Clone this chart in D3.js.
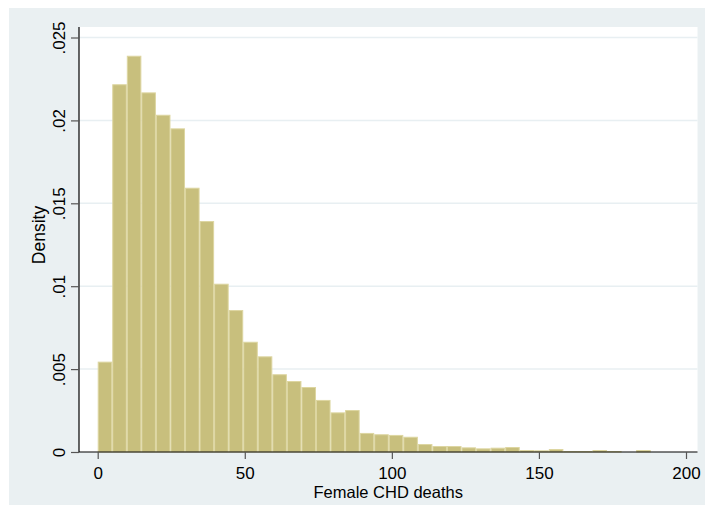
<!DOCTYPE html>
<html>
<head>
<meta charset="utf-8">
<script src="https://cdn.jsdelivr.net/npm/d3@7"></script>
<style>
  html, body { margin: 0; padding: 0; background: #ffffff; }
  svg { display: block; }
  text { font-family: "Liberation Sans", Arial, Helvetica, sans-serif; fill: #000; }
</style>
</head>
<body>
<svg id="chart" width="705" height="516"></svg>
<script>
// ---- data ----
const binStart = 0;
const binEnd = 188;
const binCount = 38;
const densities = [
  0.00545, 0.02218, 0.0239, 0.02169, 0.02034, 0.01952, 0.01594, 0.01393,
  0.01015, 0.00856, 0.00665, 0.00577, 0.00469, 0.00428, 0.00392, 0.00314,
  0.00239, 0.00253, 0.00115, 0.00107, 0.00103, 0.00092, 0.00048, 0.00036,
  0.00036, 0.00028, 0.00022, 0.00026, 0.0003, 0.00012, 0.0001, 0.00018,
  0.00006, 0.00006, 0.00012, 0.00006, 0, 0.00012
];
const xTicks = [0, 50, 100, 150, 200];
const yTicks = [0, 0.005, 0.01, 0.015, 0.02, 0.025];
const yTickLabels = ["0", ".005", ".01", ".015", ".02", ".025"];
const xTitle = "Female CHD deaths";
const yTitle = "Density";

// ---- layout ----
const svg = d3.select("#chart");
const plotLeft = 79, plotRight = 697.5, plotTop = 27, plotBottom = 452;

svg.append("rect").attr("x", 9).attr("y", 8).attr("width", 696).attr("height", 497)
  .attr("fill", "#eaf0f2");
svg.append("rect").attr("x", plotLeft).attr("y", plotTop)
  .attr("width", plotRight - plotLeft).attr("height", plotBottom - plotTop)
  .attr("fill", "#ffffff");

const x = d3.scaleLinear().domain([0, 200]).range([97.7, 686]);
const y = d3.scaleLinear().domain([0, 0.025]).range([452, 37.5]);

// gridlines
svg.append("g").selectAll("line").data(yTicks.filter(d => d > 0)).join("line")
  .attr("x1", plotLeft).attr("x2", plotRight)
  .attr("y1", d => y(d)).attr("y2", d => y(d))
  .attr("stroke", "#e8eff2").attr("stroke-width", 1.5);

// bars
const binWidth = (binEnd - binStart) / binCount;
const bins = densities.map((d, i) => ({ x0: binStart + i * binWidth, x1: binStart + (i + 1) * binWidth, d }));
svg.append("g").selectAll("rect").data(bins.filter(b => b.d > 0)).join("rect")
  .attr("x", b => x(b.x0) + 0.5)
  .attr("width", b => x(b.x1) - x(b.x0) - 1)
  .attr("y", b => y(b.d) + 0.5)
  .attr("height", b => Math.max(0, y(0) - y(b.d) - 0.5))
  .attr("fill", "#c8bf7d")
  .attr("stroke", "#ddd6a1")
  .attr("stroke-width", 1);

// y axis
const yAxis = d3.axisLeft(y).tickValues(yTicks).tickSize(8).tickFormat((d, i) => yTickLabels[i]);
const gy = svg.append("g").attr("transform", `translate(${plotLeft},0)`).call(yAxis);
gy.select(".domain").attr("d", `M0,${plotTop}V${plotBottom}`).attr("stroke", "#000").attr("stroke-width", 1.2);
gy.selectAll(".tick line").attr("stroke", "#555").attr("stroke-width", 1.2);
gy.selectAll(".tick text")
  .attr("transform", "rotate(-90)")
  .attr("x", 0).attr("y", -14).attr("dy", 0)
  .attr("text-anchor", "middle")
  .style("font-size", "17px")
  .style("font-family", "'Liberation Sans', Arial, sans-serif")
  .attr("fill", "#000");

// x axis
const xAxis = d3.axisBottom(x).tickValues(xTicks).tickSize(7).tickFormat(d3.format("d"));
const gx = svg.append("g").attr("transform", `translate(0,${plotBottom})`).call(xAxis);
gx.select(".domain").attr("d", `M${plotLeft},0H${plotRight}`).attr("stroke", "#000").attr("stroke-width", 1.2);
gx.selectAll(".tick line").attr("stroke", "#555").attr("stroke-width", 1.2);
gx.selectAll(".tick text")
  .attr("y", 26.5).attr("dy", 0)
  .style("font-size", "17px")
  .style("font-family", "'Liberation Sans', Arial, sans-serif")
  .attr("fill", "#000");

// titles
svg.append("text").attr("x", (plotLeft + plotRight) / 2).attr("y", 497.5)
  .attr("text-anchor", "middle").style("font-size", "16.5px").text(xTitle);
svg.append("text").attr("transform", `translate(45,235) rotate(-90)`)
  .attr("text-anchor", "middle").style("font-size", "17.5px").text(yTitle);
</script>
</body>
</html>
